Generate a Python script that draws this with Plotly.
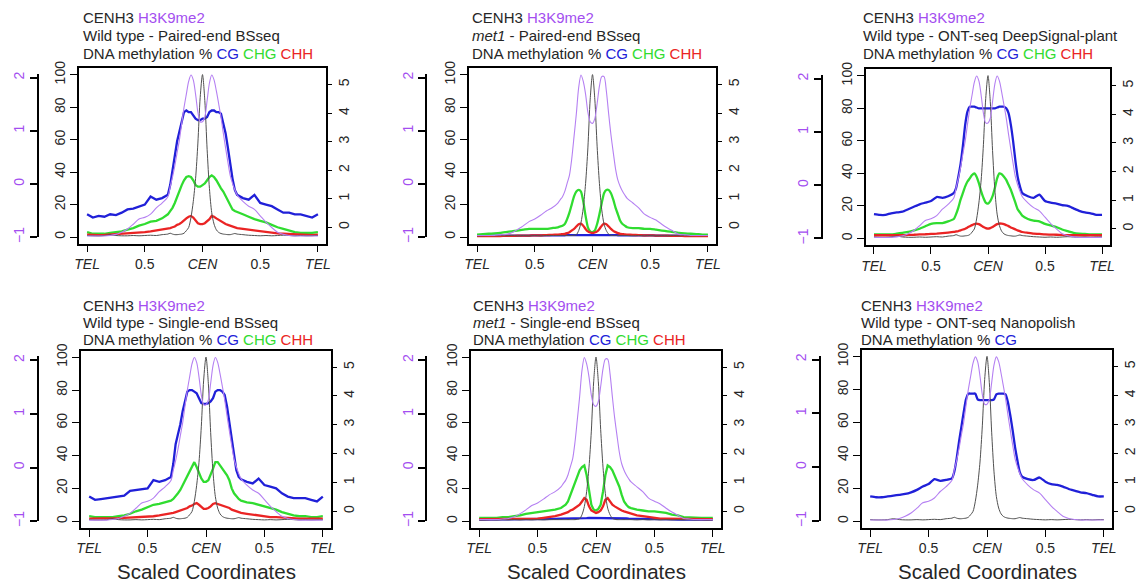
import plotly.graph_objects as go

# Scaled chromosome coordinate: -1 = left telomere, 0 = centromere, 1 = right telomere
pos = [-1.0, -0.95, -0.9, -0.85, -0.8, -0.75, -0.7, -0.65, -0.6, -0.55, -0.5, -0.45, -0.4, -0.35, -0.3,
       -0.28, -0.26, -0.24, -0.22, -0.2, -0.18, -0.16, -0.14, -0.12, -0.1, -0.08, -0.06, -0.04, -0.02, 0.0,
       0.02, 0.04, 0.06, 0.08, 0.1, 0.12, 0.14, 0.16, 0.18, 0.2, 0.22, 0.24, 0.26, 0.28,
       0.3, 0.35, 0.4, 0.45, 0.5, 0.55, 0.6, 0.65, 0.7, 0.75, 0.8, 0.85, 0.9, 0.95, 1.0]

x_tickvals = [-1, -0.5, 0, 0.5, 1]
x_ticktext = ["TEL", "0.5", "CEN", "0.5", "TEL"]
meth_ticks = [0, 20, 40, 60, 80, 100]
cenh3_ticks = [0, 1, 2, 3, 4, 5]
h3k9_ticks = [-1, 0, 1, 2]

# ChIP profiles (H3K9me2 log2 ChIP/input, CENH3 enrichment)
h3k9me2_wt = [-0.98, -0.98, -0.98, -0.98, -0.97, -0.95, -0.91, -0.85, -0.76, -0.66, -0.63, -0.57, -0.45, -0.36, -0.24,
              -0.05, 0.13, 0.34, 0.59, 0.83, 1.14, 1.44, 1.69, 1.93, 2.05, 1.96, 1.69, 1.35, 1.17, 1.17,
              1.26, 1.57, 1.90, 2.05, 1.96, 1.75, 1.51, 1.26, 0.96, 0.68, 0.41, 0.16, 0.01, -0.11,
              -0.21, -0.33, -0.42, -0.48, -0.60, -0.72, -0.82, -0.91, -0.95, -0.97, -0.98, -0.98, -0.98, -0.98, -0.98]
cenh3_wt = [-0.29, -0.30, -0.30, -0.29, -0.26, -0.29, -0.30, -0.30, -0.29, -0.30, -0.29, -0.28, -0.29, -0.26, -0.24,
            -0.21, -0.24, -0.26, -0.26, -0.25, -0.24, -0.21, -0.12, -0.01, 0.34, 0.90, 1.70, 2.95, 4.55, 5.35,
            4.44, 2.73, 1.36, 0.51, 0.11, -0.09, -0.18, -0.22, -0.24, -0.25, -0.26, -0.26, -0.24, -0.22,
            -0.24, -0.26, -0.28, -0.29, -0.30, -0.29, -0.30, -0.29, -0.28, -0.29, -0.30, -0.29, -0.30, -0.29, -0.29]
h3k9me2_met1 = [-0.97, -0.97, -0.97, -0.97, -0.96, -0.95, -0.92, -0.86, -0.79, -0.71, -0.66, -0.59, -0.51, -0.45, -0.36,
                -0.30, -0.24, -0.14, 0.01, 0.16, 0.47, 0.89, 1.32, 1.81, 2.05, 1.93, 1.69, 1.35, 1.17, 1.14,
                1.23, 1.51, 1.84, 2.02, 2.02, 1.75, 1.32, 0.92, 0.59, 0.28, 0.07, -0.05, -0.14, -0.21,
                -0.27, -0.36, -0.45, -0.57, -0.63, -0.68, -0.76, -0.83, -0.89, -0.95, -0.96, -0.97, -0.97, -0.97, -0.97]
cenh3_met1 = [-0.30, -0.30, -0.29, -0.30, -0.29, -0.30, -0.29, -0.30, -0.29, -0.30, -0.29, -0.30, -0.29, -0.29, -0.29,
              -0.29, -0.29, -0.29, -0.29, -0.29, -0.29, -0.28, -0.26, -0.12, 0.16, 0.68, 1.53, 2.78, 4.49, 5.35,
              4.49, 2.84, 1.53, 0.62, 0.11, -0.12, -0.24, -0.28, -0.29, -0.29, -0.29, -0.29, -0.29, -0.29,
              -0.29, -0.30, -0.29, -0.30, -0.29, -0.30, -0.29, -0.30, -0.29, -0.30, -0.29, -0.30, -0.29, -0.30, -0.29]

# DNA methylation (%) - wild type, paired-end BSseq
cg_wt_pe = [14, 12, 13, 12.5, 14, 13.5, 15, 17, 17.5, 19, 20, 25, 23, 24, 26,
            32, 41, 52, 59, 65, 72, 77, 78, 77, 77, 75, 73, 72, 72, 73,
            73, 74, 77, 78, 78, 77, 77, 76, 70, 64, 55, 45, 36, 29,
            26, 24, 23, 26, 21, 20, 19, 17, 15, 15, 14, 14, 13, 12, 14]
chg_wt_pe = [3, 2, 2, 2, 2.5, 3, 3.5, 4.5, 5.5, 7, 8, 9.5, 10, 11.5, 14,
             16, 18, 21, 25, 29, 32, 35, 37, 37.5, 37, 35, 32, 31, 31, 32,
             33, 35, 37, 38, 37, 35, 32, 30, 28, 25, 22, 19, 17, 16,
             15.5, 14, 12.5, 11, 10, 9, 7.5, 6, 5, 4, 3, 2.5, 2.5, 2.5, 3]
chh_wt_pe = [1.5, 1.2, 1.2, 1.3, 1.5, 1.8, 2, 2.2, 2.5, 2.8, 3, 3.5, 4, 4.5, 5,
             5.5, 6, 6.5, 7.5, 8, 9, 10.5, 11.5, 12.5, 13, 12, 10, 8.5, 8, 8,
             8.5, 9.5, 11, 13, 12.5, 11.5, 10.5, 9.5, 9, 8, 7.5, 7, 6.5, 6,
             5.5, 5, 4.5, 4, 3.5, 3, 2.5, 2.2, 2, 1.8, 1.5, 1.5, 1.3, 1.2, 1.5]

# met1, paired-end BSseq
cg_met1_pe = [0.8, 0.8, 0.8, 0.8, 0.8, 0.8, 0.8, 0.9, 0.9, 0.9, 1.0, 1.0, 1.0, 1.0, 1.1,
              1.1, 1.1, 1.1, 1.2, 1.2, 1.2, 1.2, 1.2, 1.2, 1.2, 1.2, 1.2, 1.2, 1.2, 1.2,
              1.2, 1.2, 1.2, 1.2, 1.2, 1.2, 1.2, 1.2, 1.2, 1.2, 1.1, 1.1, 1.1, 1.1,
              1.1, 1.0, 1.0, 1.0, 1.0, 0.9, 0.9, 0.9, 0.8, 0.8, 0.8, 0.8, 0.8, 0.8, 0.8]
chg_met1_pe = [1.5, 1.8, 2, 2.2, 2.5, 3, 3.5, 4, 4.5, 5, 5, 5, 5, 5.5, 6,
               6.5, 7, 8, 11, 15, 20, 25, 28, 29, 28, 22, 13, 6, 3.5, 3,
               4, 8, 14, 21, 27, 29, 29, 27, 23, 18, 14, 10, 8, 7,
               6, 5.5, 5.5, 5, 5, 4.5, 4, 3.5, 3, 2.5, 2.2, 2, 1.8, 1.5, 1.5]
chh_met1_pe = [0.5, 0.5, 0.5, 0.6, 0.6, 0.7, 0.7, 0.8, 0.8, 0.9, 1.0, 1.0, 1.2, 1.3, 1.5,
               1.6, 1.8, 2.0, 2.4, 3.0, 4.0, 5.0, 6.5, 7.8, 8.2, 7.0, 5.0, 3.5, 2.8, 2.5,
               2.8, 3.5, 5.0, 7.0, 8.2, 7.8, 6.5, 5.0, 3.8, 3.0, 2.4, 2.0, 1.8, 1.6,
               1.5, 1.3, 1.2, 1.0, 1.0, 0.9, 0.8, 0.8, 0.7, 0.7, 0.6, 0.6, 0.5, 0.5, 0.5]

# wild type, ONT-seq DeepSignal-plant
cg_wt_dsp = [15, 14.5, 14.5, 15.5, 16, 16.5, 18, 19.5, 21, 22, 23, 25.5, 25, 26, 28,
             31, 38, 46, 57, 70, 78, 81, 81, 81, 80.5, 80, 80, 80, 80, 80,
             80, 80, 80, 80.5, 81, 81, 81, 80, 77, 70, 60, 48, 38, 32,
             28, 26, 25, 27, 23, 22, 21.5, 20.5, 20, 18.5, 17, 16, 15.5, 14.5, 14.5]
chg_wt_dsp = [2.5, 2.5, 2.5, 2.5, 3, 3.5, 4, 5, 6, 7.5, 9, 9.5, 9.5, 10.5, 12,
              15, 19, 24, 28, 32, 35, 37, 39, 40, 38, 34, 29, 25, 22, 21.5,
              23, 26, 31, 37, 40, 39.5, 38, 36, 33, 30, 26, 22, 18, 16,
              14, 12, 11, 10.5, 9, 8, 7, 5.5, 4.5, 3.5, 3, 2.8, 2.5, 2.5, 2.5]
chh_wt_dsp = [2, 2, 2, 2, 2, 2, 2.2, 2.3, 2.5, 2.6, 2.8, 3, 3.3, 3.6, 4,
              4.3, 4.6, 5, 5.5, 6, 6.8, 7.5, 8.2, 8.8, 9.2, 8.8, 8, 7, 6.4, 6.1,
              6.4, 7, 8, 8.8, 9.2, 9.1, 8.8, 8.2, 7.6, 6.8, 6.2, 5.6, 5, 4.5,
              4, 3.5, 3, 2.8, 2.5, 2.4, 2.3, 2.2, 2, 2, 2, 2, 2, 2, 2]

# wild type, single-end BSseq
cg_wt_se = [15, 13, 13.5, 14, 14.5, 15, 15.5, 18.5, 19, 19.5, 20, 25, 24, 25, 27,
            35, 47, 53, 59, 67, 74, 79, 80, 80, 79, 78, 75, 72, 71.5, 71.5,
            72, 73, 75, 79, 80, 80, 79, 77, 70, 60, 50, 40, 31, 27,
            25.5, 24, 23, 26, 22, 21, 20, 17, 15, 14, 14, 14, 13, 12, 15]
chg_wt_se = [3, 2.5, 2.5, 2.5, 2.5, 3, 3.5, 4.5, 6, 7, 8.5, 10, 10.5, 11.5, 12.5,
             13.5, 15, 17, 19, 22, 25, 28, 31, 34, 36, 33, 29, 26, 24, 24,
             25, 28, 32, 36, 36, 34, 32, 30, 28, 25, 20, 17, 15, 13.5,
             12.5, 11.5, 11, 10, 9, 8, 7, 5.5, 4.5, 3.5, 3, 3, 2.5, 2.5, 3]
chh_wt_se = [1.5, 1.5, 1.5, 1.5, 1.6, 1.8, 2, 2.2, 2.4, 2.5, 2.5, 3, 3.5, 4, 4.5,
             5, 5.5, 6, 6.5, 7, 7.5, 8, 9, 9.5, 10.5, 11, 10, 8.5, 7.5, 7.5,
             8, 9, 10.5, 11, 10.5, 10, 9.5, 9, 8.5, 8, 7, 6.5, 6, 5.5,
             5, 4.5, 4, 3.5, 3, 2.5, 2.5, 2.2, 2, 1.8, 1.5, 1.5, 1.5, 1.5, 1.5]

# met1, single-end BSseq
cg_met1_se = [1.0, 1.0, 1.0, 1.0, 1.0, 1.0, 1.0, 1.1, 1.1, 1.1, 1.2, 1.2, 1.3, 1.4, 1.5,
              1.5, 1.6, 1.6, 1.7, 1.7, 1.8, 1.8, 1.8, 1.9, 1.9, 1.9, 2.0, 2.0, 2.0, 2.0,
              2.0, 2.0, 2.0, 1.9, 1.9, 1.9, 1.8, 1.8, 1.8, 1.7, 1.7, 1.6, 1.6, 1.5,
              1.5, 1.4, 1.3, 1.2, 1.2, 1.1, 1.1, 1.1, 1.0, 1.0, 1.0, 1.0, 1.0, 1.0, 1.0]
chg_met1_se = [2, 2, 2, 2, 2.5, 2.5, 3, 3.5, 4.5, 5, 5.5, 6, 6.5, 7, 8,
               9, 10, 12, 16, 20, 24, 28, 31, 33, 34, 28, 18, 10, 7, 6.5,
               7.5, 10, 18, 28, 34, 33, 31, 28, 25, 21, 16, 12, 10, 8.5,
               8, 7, 6.5, 6, 6, 5.5, 5, 4, 3.5, 2.5, 2.2, 2, 2, 2, 2]
chh_met1_se = [1.2, 1.2, 1.2, 1.2, 1.3, 1.3, 1.3, 1.4, 1.4, 1.5, 1.5, 2, 2.5, 3, 4,
               4.5, 5, 5.5, 6.5, 7, 8, 9, 10, 12, 14, 13, 9, 6.5, 5.5, 5,
               5.5, 6.5, 9, 13, 14, 12, 10, 9, 8, 7, 6.5, 6, 5.5, 5,
               4.5, 3.5, 3, 2.5, 2, 1.5, 1.5, 1.4, 1.3, 1.3, 1.2, 1.2, 1.2, 1.2, 1.2]

# wild type, ONT-seq Nanopolish (CG only)
cg_wt_np = [15, 14.5, 14.5, 15, 15.5, 16, 16.5, 17.5, 19, 21, 22.5, 25.5, 24.5, 25, 26,
            30, 38, 48, 57, 66, 74, 77.5, 77.5, 77.5, 77.5, 74, 73.5, 73.5, 73.5, 73.5,
            73.5, 73.5, 74, 77, 77.5, 77.5, 77.5, 77, 72, 64, 55, 45, 37, 30,
            27, 25.5, 25, 26.5, 24, 22.5, 22, 21, 19.5, 18.5, 17.5, 17, 16, 15, 15]

# ---------------------------------------------------------------- styling
W, H = 1137, 587
FONT = "Arial, Liberation Sans, sans-serif"
INK = "#262626"
PURPLE_TXT = "#a34ef0"
PURPLE_LINE = "#b580f2"
CEN_LINE = "#505050"
C_CG, C_CHG, C_CHH = "#2020d8", "#30dc30", "#ea2424"

METH_RANGE = [-4, 104]
CEN_RANGE = [-0.57, 5.57]
H3_RANGE = [-1.122, 2.177]   # H3K9me2 scale expressed over the full box height
H3_BAR_TOP = 2.07            # top of the H3K9me2 bar axis (leaves room for the peaks)
X_RANGE = [-1.07, 1.07]


def span(color, text):
    return f"<span style='color:{color}'>{text}</span>"


line1 = "CENH3 " + span(PURPLE_TXT, "H3K9me2")
meth_all = " " + span(C_CG, "CG") + " " + span(C_CHG, "CHG") + " " + span(C_CHH, "CHH")

panels = [
    dict(box=(79, 326, 68.3, 243.5), h3x=37.5, txt=(81, 17, 35.5, 54), shape="linear",
         lines=[line1, "Wild type - Paired-end BSseq", "DNA methylation %" + meth_all],
         chip=(h3k9me2_wt, cenh3_wt), meth=[(cg_wt_pe, C_CG), (chg_wt_pe, C_CHG), (chh_wt_pe, C_CHH)]),
    dict(box=(469, 716, 68.3, 243.5), h3x=426, txt=(470, 17, 35.5, 54), shape="spline",
         lines=[line1, "<i>met1</i> - Paired-end BSseq", "DNA methylation %" + meth_all],
         chip=(h3k9me2_met1, cenh3_met1), meth=[(cg_met1_pe, C_CG), (chg_met1_pe, C_CHG), (chh_met1_pe, C_CHH)]),
    dict(box=(866, 1110, 69.3, 245), h3x=821.5, txt=(861, 17, 35.5, 54), shape="spline",
         lines=[line1, "Wild type - ONT-seq DeepSignal-plant", "DNA methylation %" + meth_all],
         chip=(h3k9me2_wt, cenh3_wt), meth=[(cg_wt_dsp, C_CG), (chg_wt_dsp, C_CHG), (chh_wt_dsp, C_CHH)]),
    dict(box=(81, 331, 350.7, 527.7), h3x=37.5, txt=(81, 305, 322, 339), shape="linear",
         lines=[line1, "Wild type - Single-end BSseq", "DNA methylation %" + meth_all],
         chip=(h3k9me2_wt, cenh3_wt), meth=[(cg_wt_se, C_CG), (chg_wt_se, C_CHG), (chh_wt_se, C_CHH)]),
    dict(box=(471, 721, 350.7, 527.7), h3x=426, txt=(471, 305, 322, 339), shape="linear",
         lines=[line1, "<i>met1</i> - Single-end BSseq", "DNA methylation" + meth_all],
         chip=(h3k9me2_met1, cenh3_met1), meth=[(cg_met1_se, C_CG), (chg_met1_se, C_CHG), (chh_met1_se, C_CHH)]),
    dict(box=(862, 1112, 350, 527.7), h3x=819.5, txt=(859, 305, 322, 339), shape="spline",
         lines=[line1, "Wild type - ONT-seq Nanopolish", "DNA methylation % " + span(C_CG, "CG")],
         chip=(h3k9me2_wt, cenh3_wt), meth=[(cg_wt_np, C_CG)]),
]


def axname(letter, n):
    return f"{letter}axis" if n == 1 else f"{letter}axis{n}"


def axref(letter, n):
    return letter if n == 1 else f"{letter}{n}"


fig = go.Figure()
layout = {}
annotations = []
tick_font = dict(family=FONT, size=14, color=INK)
h3_span = H3_RANGE[1] - H3_RANGE[0]

for i, p in enumerate(panels):
    L, R, T, B = p["box"]
    xn = i + 1
    yb, yc, yd = 3 * i + 1, 3 * i + 2, 3 * i + 3
    xdom = [L / W, R / W]
    ydom = [1 - B / H, 1 - T / H]
    dh = ydom[1] - ydom[0]

    layout[axname("x", xn)] = dict(
        domain=xdom, anchor=axref("y", yb), range=X_RANGE,
        tickmode="array", tickvals=x_tickvals,
        ticktext=[f"<i>{t}</i>" if t in ("TEL", "CEN") else t for t in x_ticktext],
        ticks="outside", ticklen=7, tickwidth=1.3, tickcolor="black",
        showline=True, mirror=True, linecolor="black", linewidth=1.6,
        showgrid=False, zeroline=False, tickfont=tick_font)
    # methylation % (left, framed box)
    layout[axname("y", yb)] = dict(
        domain=ydom, anchor=axref("x", xn), range=METH_RANGE,
        tickmode="array", tickvals=meth_ticks, tickangle=-90,
        ticks="outside", ticklen=7, tickwidth=1.3, tickcolor="black",
        showline=True, mirror=True, linecolor="black", linewidth=1.6,
        showgrid=False, zeroline=False, tickfont=tick_font)
    # CENH3 (right)
    layout[axname("y", yc)] = dict(
        overlaying=axref("y", yb), anchor=axref("x", xn), side="right", range=CEN_RANGE,
        tickmode="array", tickvals=cenh3_ticks, tickangle=-90,
        ticks="outside", ticklen=5, tickwidth=1.3, tickcolor="black",
        showline=False, showgrid=False, zeroline=False, tickfont=tick_font)
    # H3K9me2: free bar axis left of the box, same vertical scale as over the box
    f_lo = (-1 - H3_RANGE[0]) / h3_span
    f_hi = (H3_BAR_TOP - H3_RANGE[0]) / h3_span
    layout[axname("y", yd)] = dict(
        domain=[ydom[0] + f_lo * dh, ydom[0] + f_hi * dh], anchor="free",
        position=p["h3x"] / W, side="left", range=[-1, H3_BAR_TOP],
        tickmode="array", tickvals=h3k9_ticks, tickangle=-90,
        ticks="outside", ticklen=7, tickwidth=1.5, tickcolor="black",
        showline=True, linecolor="black", linewidth=1.6,
        showgrid=False, zeroline=False,
        tickfont=dict(family=FONT, size=14, color=PURPLE_TXT))

    h3, cen = p["chip"]
    fig.add_trace(go.Scatter(x=pos, y=cen, xaxis=axref("x", xn), yaxis=axref("y", yc),
                             mode="lines", line=dict(color=CEN_LINE, width=1, shape="spline", smoothing=0.8),
                             showlegend=False, hoverinfo="skip"))
    fig.add_trace(go.Scatter(x=pos, y=h3, xaxis=axref("x", xn), yaxis=axref("y", yd),
                             mode="lines", line=dict(color=PURPLE_LINE, width=1.1, shape="spline", smoothing=0.8),
                             showlegend=False, hoverinfo="skip"))
    meth_line = dict(width=2.3, shape=p["shape"])
    if p["shape"] == "spline":
        meth_line["smoothing"] = 0.5
    for vals, col in p["meth"]:
        fig.add_trace(go.Scatter(x=pos, y=vals, xaxis=axref("x", xn), yaxis=axref("y", yb),
                                 mode="lines", line=dict(color=col, **meth_line),
                                 showlegend=False, hoverinfo="skip"))

    tx, t1, t2, t3 = p["txt"]
    for txt, ty in zip(p["lines"], (t1, t2, t3)):
        annotations.append(dict(text=txt, x=tx / W, y=1 - ty / H, xref="paper", yref="paper",
                                xanchor="left", yanchor="middle", showarrow=False,
                                font=dict(family=FONT, size=15, color=INK)))
    if i >= 3:
        annotations.append(dict(text="Scaled Coordinates", x=(L + R) / 2 / W, y=1 - 571 / H,
                                xref="paper", yref="paper", xanchor="center", yanchor="middle",
                                showarrow=False, font=dict(family=FONT, size=20.5, color=INK)))

fig.update_layout(**layout)
fig.update_layout(width=W, height=H, margin=dict(l=0, r=0, t=0, b=0, autoexpand=False),
                  paper_bgcolor="white", plot_bgcolor="rgba(0,0,0,0)",
                  font=dict(family=FONT, color=INK), annotations=annotations, showlegend=False)
fig.write_html("out.html")
